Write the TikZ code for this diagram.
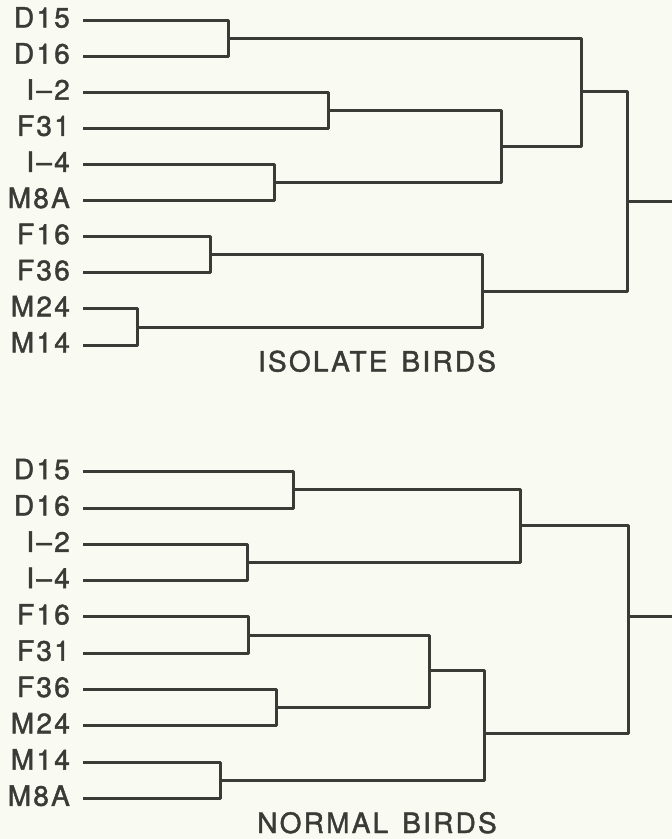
\documentclass[tikz,border=0pt]{standalone}
\usepackage{fontspec}
\setmainfont{TeX Gyre Heros}[LetterSpace=8,FakeBold=1.5]
\definecolor{bg}{HTML}{F9FAF2}
\definecolor{ink}{HTML}{3A3A36}
\begin{document}
\begin{tikzpicture}[x=1bp,y=-1bp,
  edge/.style={draw=ink,line width=3bp,line join=round,line cap=butt},
  leaf/.style={anchor=base east,inner sep=0pt,text=ink,font=\fontsize{28bp}{30bp}\selectfont},
  title/.style={anchor=base,inner sep=0pt,text=ink,font=\fontsize{28bp}{30bp}\selectfont}]
\fill[bg] (0,0) rectangle (672,839);
\useasboundingbox (0,0) rectangle (672,839);
% ---------- top tree ----------
\foreach \n/\t/\y in {t1/D15/20,t2/D16/56.1,t3/I--2/92.2,t4/F31/128.3,t5/I--4/164.4,t6/M8A/200.5,t7/F16/236.6,t8/F36/272.7,t9/M24/308.8,t10/M14/345}{
  \node[leaf] (n\n) at (70,\y+7.5) {\t};
  \coordinate (\n) at (83,\y);
}
\coordinate (a1) at (228,38);
\coordinate (a2) at (328,110.2);
\coordinate (a3) at (274,182.5);
\coordinate (a4) at (501,146.5);
\coordinate (a5) at (581,91.5);
\coordinate (a6) at (210,254.6);
\coordinate (a7) at (137,327);
\coordinate (a8) at (482,291);
\coordinate (a9) at (627,201);
\coordinate (aend) at (672,201);
\draw[edge] (t1) -| (a1); \draw[edge] (t2) -| (a1);
\draw[edge] (t3) -| (a2); \draw[edge] (t4) -| (a2);
\draw[edge] (t5) -| (a3); \draw[edge] (t6) -| (a3);
\draw[edge] (t7) -| (a6); \draw[edge] (t8) -| (a6);
\draw[edge] (t9) -| (a7); \draw[edge] (t10) -| (a7);
\draw[edge] (a2) -| (a4); \draw[edge] (a3) -| (a4);
\draw[edge] (a1) -| (a5); \draw[edge] (a4) -| (a5);
\draw[edge] (a6) -| (a8); \draw[edge] (a7) -| (a8);
\draw[edge] (a5) -| (a9); \draw[edge] (a8) -| (a9);
\draw[edge] (a9) -- (aend);
\node[title] (tt) at (377,371.5) {ISOLATE\hspace{0.5em}BIRDS};
% ---------- bottom tree ----------
\foreach \n/\t/\y in {b1/D15/471.7,b2/D16/508,b3/I--2/544.3,b4/I--4/580.6,b5/F16/616.9,b6/F31/653.2,b7/F36/689.5,b8/M24/725.8,b9/M14/762.1,b10/M8A/798.3}{
  \node[leaf] (n\n) at (70,\y+7.5) {\t};
  \coordinate (\n) at (83,\y);
}
\coordinate (c1) at (293,489.9);
\coordinate (c2) at (247,562.4);
\coordinate (c3) at (520,525);
\coordinate (c4) at (248,635);
\coordinate (c5) at (276,707.6);
\coordinate (c6) at (429,670);
\coordinate (c7) at (220,780.2);
\coordinate (c8) at (484,733);
\coordinate (c9) at (628,616);
\coordinate (cend) at (672,616);
\draw[edge] (b1) -| (c1); \draw[edge] (b2) -| (c1);
\draw[edge] (b3) -| (c2); \draw[edge] (b4) -| (c2);
\draw[edge] (b5) -| (c4); \draw[edge] (b6) -| (c4);
\draw[edge] (b7) -| (c5); \draw[edge] (b8) -| (c5);
\draw[edge] (b9) -| (c7); \draw[edge] (b10) -| (c7);
\draw[edge] (c1) -| (c3); \draw[edge] (c2) -| (c3);
\draw[edge] (c4) -| (c6); \draw[edge] (c5) -| (c6);
\draw[edge] (c6) -| (c8); \draw[edge] (c7) -| (c8);
\draw[edge] (c3) -| (c9); \draw[edge] (c8) -| (c9);
\draw[edge] (c9) -- (cend);
\node[title] (bt) at (377,833) {NORMAL\hspace{0.5em}BIRDS};
\end{tikzpicture}
\end{document}
